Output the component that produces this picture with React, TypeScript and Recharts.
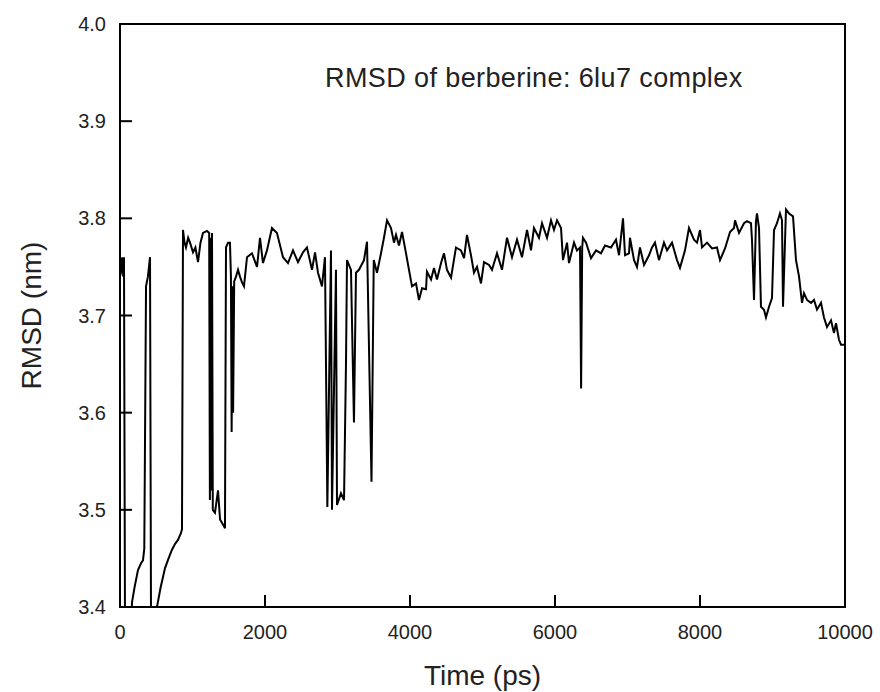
import { Line, LineChart, ReferenceArea, XAxis, YAxis } from "recharts";

// simulation time (ps) and RMSD (nm)
const timePs = [
  0, 15, 30, 45, 55, 69, 150, 166, 200, 248, 290, 317, 335, 359, 385, 414, 428, 500, 510, 560,
  621, 670, 717, 760, 800, 840, 855, 869, 890, 910, 940, 966, 1007, 1040, 1076, 1110, 1145, 1200,
  1230, 1240, 1255, 1262, 1269, 1280, 1310, 1352, 1380, 1420, 1448, 1462, 1490, 1517, 1530, 1540,
  1550, 1560, 1575, 1600, 1628, 1655, 1683, 1710, 1752, 1820, 1890, 1931, 1972, 2027, 2096, 2165,
  2248, 2317, 2386, 2455, 2524, 2579, 2648, 2690, 2731, 2786, 2827, 2860, 2910, 2924, 2979, 2993,
  3048, 3090, 3117, 3131, 3186, 3227, 3255, 3296, 3365, 3407, 3469, 3500, 3545, 3600, 3641, 3683,
  3738, 3779, 3807, 3848, 3890, 3945, 3986, 4028, 4083, 4124, 4166, 4221, 4234, 4290, 4331, 4372,
  4428, 4469, 4510, 4566, 4634, 4703, 4745, 4786, 4841, 4883, 4924, 4979, 5021, 5090, 5131, 5200,
  5269, 5338, 5407, 5476, 5545, 5614, 5669, 5710, 5779, 5821, 5890, 5945, 5986, 6028, 6083, 6110,
  6166, 6193, 6262, 6303, 6345, 6360, 6375, 6386, 6428, 6497, 6566, 6634, 6690, 6772, 6841, 6883,
  6938, 6966, 7021, 7034, 7090, 7131, 7172, 7228, 7297, 7338, 7379, 7434, 7503, 7545, 7614, 7683,
  7724, 7793, 7848, 7917, 7959, 8000, 8028, 8097, 8166, 8234, 8276, 8345, 8414, 8469, 8483, 8538,
  8607, 8648, 8703, 8717, 8745, 8772, 8786, 8814, 8841, 8883, 8910, 8952, 8993, 9021, 9062, 9103,
  9131, 9145, 9186, 9228, 9283, 9324, 9366, 9407, 9434, 9476, 9531, 9572, 9614, 9669, 9710, 9752,
  9807, 9848, 9876, 9917, 9945, 10000,
];

const rmsdNm = [
  3.74, 3.745, 3.76, 3.74, 3.76, 3.38, 3.38, 3.405, 3.42, 3.438, 3.445, 3.448, 3.46, 3.73, 3.74, 3.76, 3.38, 3.38, 3.4, 3.42,
  3.44, 3.45, 3.459, 3.465, 3.469, 3.476, 3.48, 3.788, 3.775, 3.77, 3.78, 3.775, 3.765, 3.77, 3.755, 3.775, 3.785, 3.787,
  3.785, 3.51, 3.78, 3.52, 3.785, 3.5, 3.497, 3.52, 3.49, 3.485, 3.481, 3.77, 3.775, 3.775, 3.74, 3.58,
  3.73, 3.6, 3.735, 3.74, 3.747, 3.74, 3.734, 3.73, 3.76, 3.764, 3.75, 3.78, 3.754, 3.767, 3.79, 3.785,
  3.76, 3.754, 3.767, 3.755, 3.765, 3.77, 3.747, 3.765, 3.744, 3.73, 3.76, 3.503, 3.767, 3.5, 3.747, 3.505,
  3.517, 3.51, 3.65, 3.757, 3.747, 3.59, 3.744, 3.747, 3.757, 3.776, 3.529, 3.757, 3.744, 3.764, 3.78, 3.798,
  3.79, 3.775, 3.783, 3.772, 3.786, 3.764, 3.747, 3.73, 3.733, 3.716, 3.728, 3.727, 3.745, 3.737, 3.749, 3.737,
  3.754, 3.764, 3.747, 3.739, 3.77, 3.767, 3.759, 3.783, 3.762, 3.744, 3.75, 3.733, 3.755, 3.752, 3.747, 3.764,
  3.747, 3.78, 3.76, 3.778, 3.76, 3.788, 3.767, 3.79, 3.78, 3.795, 3.78, 3.798, 3.788, 3.798, 3.79, 3.757,
  3.775, 3.754, 3.775, 3.767, 3.77, 3.625, 3.77, 3.78, 3.775, 3.759, 3.767, 3.764, 3.772, 3.77, 3.778, 3.762,
  3.8, 3.762, 3.764, 3.78, 3.757, 3.75, 3.77, 3.752, 3.762, 3.77, 3.775, 3.757, 3.775, 3.767, 3.775, 3.757,
  3.749, 3.767, 3.79, 3.778, 3.775, 3.788, 3.77, 3.775, 3.769, 3.77, 3.757, 3.769, 3.786, 3.79, 3.798, 3.785,
  3.795, 3.797, 3.795, 3.778, 3.716, 3.797, 3.805, 3.79, 3.709, 3.706, 3.698, 3.709, 3.718, 3.788, 3.795, 3.805,
  3.798, 3.709, 3.809, 3.805, 3.802, 3.757, 3.74, 3.713, 3.723, 3.716, 3.713, 3.716, 3.706, 3.713, 3.698, 3.688,
  3.695, 3.682, 3.692, 3.675, 3.67, 3.67,
];

const xTicks = [0, 2000, 4000, 6000, 8000, 10000];
const yTicks = [3.4, 3.5, 3.6, 3.7, 3.8, 3.9, 4.0];

const data = timePs.map((t, i) => ({ t, rmsd: rmsdNm[i] }));

const FONT = '"Liberation Sans", Arial, sans-serif';
const TICK_LEN = 12;
const X_GAP = 14;
const Y_GAP = 14;

function XTick(props: any) {
  const { x, y, payload } = props;
  const axisY = y - X_GAP;
  return (
    <g>
      <line x1={x} x2={x} y1={axisY} y2={axisY - TICK_LEN} stroke="#000" strokeWidth={2} />
      <text x={x} y={y} dy={18} textAnchor="middle" fontSize={20} fontFamily={FONT} fill="#222">
        {payload.value}
      </text>
    </g>
  );
}

function YTick(props: any) {
  const { x, y, payload } = props;
  const axisX = x + Y_GAP;
  return (
    <g>
      <line x1={axisX} x2={axisX + TICK_LEN} y1={y} y2={y} stroke="#000" strokeWidth={2} />
      <text x={x} y={y} dy={7} textAnchor="end" fontSize={20} fontFamily={FONT} fill="#222">
        {Number(payload.value).toFixed(1)}
      </text>
    </g>
  );
}

export default function App() {
  return (
    <div style={{ position: "absolute", left: 0, top: 0, width: 880, height: 692, background: "#fff" }}>
      <LineChart width={880} height={692} data={data} margin={{ top: 24, right: 35, bottom: 0, left: 0 }}>
        <XAxis
          dataKey="t"
          type="number"
          domain={[0, 10000]}
          ticks={xTicks}
          interval={0}
          tickSize={0}
          tickMargin={X_GAP}
          tick={<XTick />}
          axisLine={false}
          height={85}
          label={{
            value: "Time (ps)",
            position: "insideBottom",
            offset: 7,
            style: { fontSize: 28, fontFamily: FONT, fill: "#222" },
          }}
        />
        <YAxis
          type="number"
          domain={[3.4, 4.0]}
          ticks={yTicks}
          interval={0}
          allowDataOverflow
          tickSize={0}
          tickMargin={Y_GAP}
          tick={<YTick />}
          axisLine={false}
          width={120}
          label={{
            value: "RMSD (nm)",
            angle: -90,
            position: "insideLeft",
            offset: 31,
            style: { fontSize: 28, fontFamily: FONT, fill: "#222", textAnchor: "middle" },
          }}
        />
        <ReferenceArea x1={0} x2={10000} y1={3.4} y2={4.0} fill="none" stroke="#000" strokeWidth={2} />
        <Line
          type="linear"
          dataKey="rmsd"
          stroke="#000"
          strokeWidth={2}
          dot={false}
          isAnimationActive={false}
        />
      </LineChart>
      <div
        style={{
          position: "absolute",
          left: 325,
          top: 63,
          fontSize: 27,
          letterSpacing: 0.4,
          fontFamily: FONT,
          color: "#222",
          whiteSpace: "nowrap",
        }}
      >
        RMSD of berberine: 6lu7 complex
      </div>
    </div>
  );
}
